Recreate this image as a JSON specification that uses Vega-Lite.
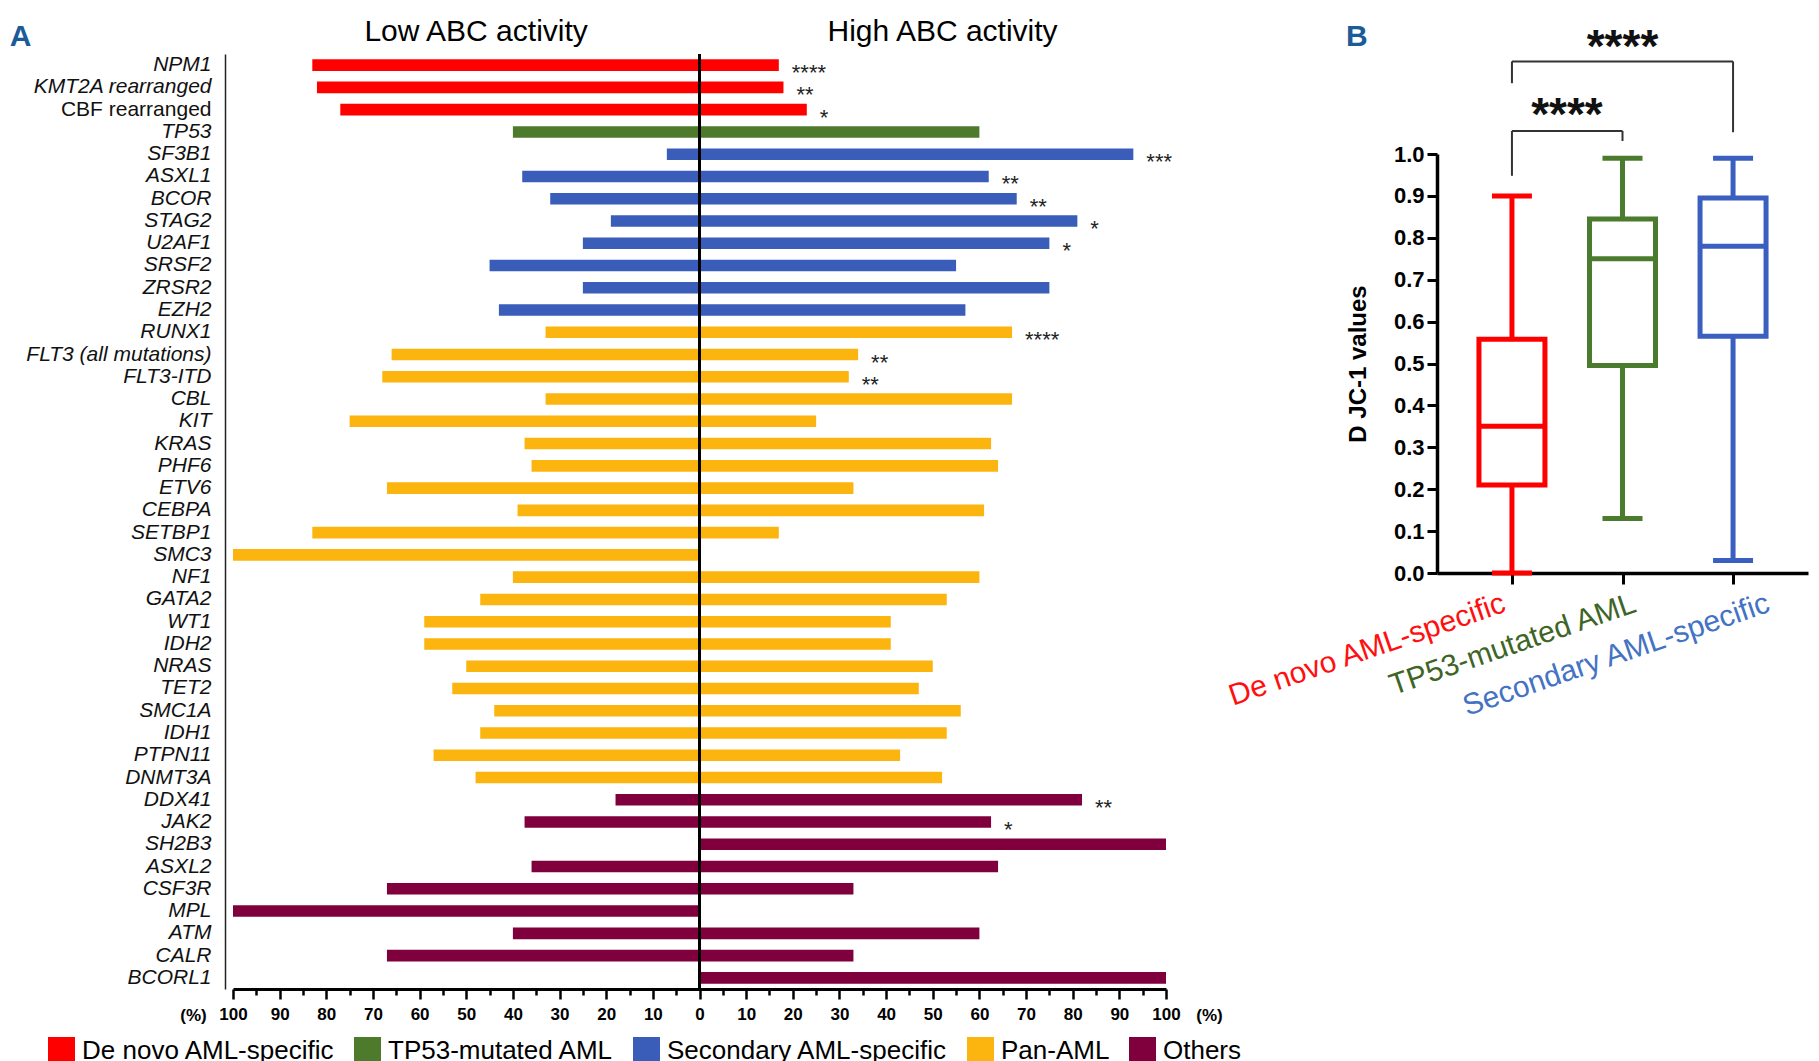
{
  "$schema": "https://vega.github.io/schema/vega-lite/v6.json",
  "background": "white",
  "padding": {"left": 9, "top": 16, "right": 5, "bottom": 0},
  "config": {
    "font": "Liberation Sans",
    "view": {"stroke": null},
    "axis": {"labelFont": "Liberation Sans", "titleFont": "Liberation Sans"},
    "legend": {"labelFont": "Liberation Sans"},
    "title": {"font": "Liberation Sans"}
  },
  "datasets": {
    "genes": [
      {"gene": "NPM1", "group": "De novo AML-specific", "low": -83, "high": 17, "sig": "****"},
      {"gene": "KMT2A rearranged", "group": "De novo AML-specific", "low": -82, "high": 18, "sig": "**"},
      {"gene": "CBF rearranged", "group": "De novo AML-specific", "low": -77, "high": 23, "sig": "*"},
      {"gene": "TP53", "group": "TP53-mutated AML", "low": -40, "high": 60, "sig": ""},
      {"gene": "SF3B1", "group": "Secondary AML-specific", "low": -7, "high": 93, "sig": "***"},
      {"gene": "ASXL1", "group": "Secondary AML-specific", "low": -38, "high": 62, "sig": "**"},
      {"gene": "BCOR", "group": "Secondary AML-specific", "low": -32, "high": 68, "sig": "**"},
      {"gene": "STAG2", "group": "Secondary AML-specific", "low": -19, "high": 81, "sig": "*"},
      {"gene": "U2AF1", "group": "Secondary AML-specific", "low": -25, "high": 75, "sig": "*"},
      {"gene": "SRSF2", "group": "Secondary AML-specific", "low": -45, "high": 55, "sig": ""},
      {"gene": "ZRSR2", "group": "Secondary AML-specific", "low": -25, "high": 75, "sig": ""},
      {"gene": "EZH2", "group": "Secondary AML-specific", "low": -43, "high": 57, "sig": ""},
      {"gene": "RUNX1", "group": "Pan-AML", "low": -33, "high": 67, "sig": "****"},
      {"gene": "FLT3 (all mutations)", "group": "Pan-AML", "low": -66, "high": 34, "sig": "**"},
      {"gene": "FLT3-ITD", "group": "Pan-AML", "low": -68, "high": 32, "sig": "**"},
      {"gene": "CBL", "group": "Pan-AML", "low": -33, "high": 67, "sig": ""},
      {"gene": "KIT", "group": "Pan-AML", "low": -75, "high": 25, "sig": ""},
      {"gene": "KRAS", "group": "Pan-AML", "low": -37.5, "high": 62.5, "sig": ""},
      {"gene": "PHF6", "group": "Pan-AML", "low": -36, "high": 64, "sig": ""},
      {"gene": "ETV6", "group": "Pan-AML", "low": -67, "high": 33, "sig": ""},
      {"gene": "CEBPA", "group": "Pan-AML", "low": -39, "high": 61, "sig": ""},
      {"gene": "SETBP1", "group": "Pan-AML", "low": -83, "high": 17, "sig": ""},
      {"gene": "SMC3", "group": "Pan-AML", "low": -100, "high": 0, "sig": ""},
      {"gene": "NF1", "group": "Pan-AML", "low": -40, "high": 60, "sig": ""},
      {"gene": "GATA2", "group": "Pan-AML", "low": -47, "high": 53, "sig": ""},
      {"gene": "WT1", "group": "Pan-AML", "low": -59, "high": 41, "sig": ""},
      {"gene": "IDH2", "group": "Pan-AML", "low": -59, "high": 41, "sig": ""},
      {"gene": "NRAS", "group": "Pan-AML", "low": -50, "high": 50, "sig": ""},
      {"gene": "TET2", "group": "Pan-AML", "low": -53, "high": 47, "sig": ""},
      {"gene": "SMC1A", "group": "Pan-AML", "low": -44, "high": 56, "sig": ""},
      {"gene": "IDH1", "group": "Pan-AML", "low": -47, "high": 53, "sig": ""},
      {"gene": "PTPN11", "group": "Pan-AML", "low": -57, "high": 43, "sig": ""},
      {"gene": "DNMT3A", "group": "Pan-AML", "low": -48, "high": 52, "sig": ""},
      {"gene": "DDX41", "group": "Others", "low": -18, "high": 82, "sig": "**"},
      {"gene": "JAK2", "group": "Others", "low": -37.5, "high": 62.5, "sig": "*"},
      {"gene": "SH2B3", "group": "Others", "low": 0, "high": 100, "sig": ""},
      {"gene": "ASXL2", "group": "Others", "low": -36, "high": 64, "sig": ""},
      {"gene": "CSF3R", "group": "Others", "low": -67, "high": 33, "sig": ""},
      {"gene": "MPL", "group": "Others", "low": -100, "high": 0, "sig": ""},
      {"gene": "ATM", "group": "Others", "low": -40, "high": 60, "sig": ""},
      {"gene": "CALR", "group": "Others", "low": -67, "high": 33, "sig": ""},
      {"gene": "BCORL1", "group": "Others", "low": 0, "high": 100, "sig": ""}
    ],
    "boxes": [
      {"group": "De novo AML-specific", "min": 0.0, "q1": 0.21, "median": 0.35, "q3": 0.558, "max": 0.9},
      {"group": "TP53-mutated AML", "min": 0.13, "q1": 0.495, "median": 0.75, "q3": 0.845, "max": 0.99},
      {"group": "Secondary AML-specific", "min": 0.03, "q1": 0.565, "median": 0.78, "q3": 0.895, "max": 0.99}
    ],
    "brackets": [
      {"from": "De novo AML-specific", "to": "Secondary AML-specific", "y": 1.221, "y2": 1.221},
      {"from": "De novo AML-specific", "to": "De novo AML-specific", "y": 1.221, "y2": 1.169},
      {"from": "Secondary AML-specific", "to": "Secondary AML-specific", "y": 1.221, "y2": 1.052},
      {"from": "De novo AML-specific", "to": "TP53-mutated AML", "y": 1.055, "y2": 1.055},
      {"from": "De novo AML-specific", "to": "De novo AML-specific", "y": 1.055, "y2": 0.948},
      {"from": "TP53-mutated AML", "to": "TP53-mutated AML", "y": 1.055, "y2": 1.031}
    ],
    "pstars": [
      {"cat": "TP53-mutated AML", "y": 1.252, "label": "****", "pos": "upper"},
      {"cat": "De novo AML-specific", "y": 1.09, "label": "****", "pos": "lower"}
    ]
  },
  "spacing": -19,
  "resolve": {"scale": {"color": "independent"}, "legend": {"color": "independent"}},
  "hconcat": [
    {
      "width": 933,
      "height": 935,
      "title": {"text": "A", "anchor": "start", "frame": "bounds", "orient": "top", "offset": 0, "dx": -16, "dy": 36, "fontSize": 30, "fontWeight": "bold", "color": "#1b5b98"},
      "data": {"name": "genes"},
      "resolve": {"axis": {"x": "independent", "y": "independent"}},
      "layer": [
        {
          "mark": {"type": "bar"},
          "encoding": {
            "y": {
              "field": "gene", "type": "nominal", "sort": null,
              "scale": {"paddingInner": 0.48, "paddingOuter": 0.24},
              "axis": {
                "title": null, "ticks": false, "domain": true, "domainColor": "#222222", "domainWidth": 1.5,
                "offset": 8, "labelPadding": 14, "labelFontSize": 21, "labelColor": "#111111", "labelLimit": 400,
                "labelFontStyle": {"condition": {"test": "datum.value === 'CBF rearranged'", "value": "normal"}, "value": "italic"}
              }
            },
            "x": {
              "field": "high", "type": "quantitative",
              "scale": {"domain": [-100, 100], "nice": false},
              "axis": {
                "orient": "bottom",
                "values": [-100, -90, -80, -70, -60, -50, -40, -30, -20, -10, 0, 10, 20, 30, 40, 50, 60, 70, 80, 90, 100],
                "labelExpr": "abs(datum.value)",
                "labelFontSize": 17, "labelFontWeight": "bold", "labelColor": "black", "labelPadding": 7,
                "labelFlush": false, "labelOverlap": false,
                "tickSize": 10, "tickWidth": 2.5, "tickColor": "black",
                "domainColor": "black", "domainWidth": 3, "grid": false,
                "title": "(%)", "titleFontSize": 17, "titleFontWeight": "bold", "titleColor": "black",
                "titleX": -40, "titleY": 31, "titleAlign": "center", "titleBaseline": "alphabetic"
              }
            },
            "color": {
              "field": "group", "type": "nominal",
              "scale": {
                "domain": ["De novo AML-specific", "TP53-mutated AML", "Secondary AML-specific", "Pan-AML", "Others"],
                "range": ["#ff0000", "#4e7a2c", "#3a5dba", "#fcb40f", "#7f003c"]
              },
              "legend": {
                "orient": "none", "legendX": -185, "legendY": 983, "direction": "horizontal", "columns": 5,
                "title": null, "symbolType": "square", "symbolSize": 729, "symbolStrokeWidth": 0, "symbolOpacity": 1,
                "labelFontSize": 26, "labelColor": "black", "labelOffset": 7, "columnPadding": 19, "labelLimit": 500, "padding": 0
              }
            }
          }
        },
        {
          "mark": {"type": "bar"},
          "encoding": {
            "y": {"field": "gene", "type": "nominal", "sort": null, "axis": null},
            "x": {
              "field": "low", "type": "quantitative",
              "axis": {
                "orient": "top", "values": [-48, 52],
                "labelExpr": "datum.value < 0 ? 'Low ABC activity' : 'High ABC activity'",
                "ticks": false, "domain": false, "grid": false,
                "labelFontSize": 30, "labelColor": "black", "labelPadding": 8, "labelLimit": 500,
                "labelOverlap": false, "labelFlush": false, "title": null
              }
            },
            "color": {
              "field": "group", "type": "nominal",
              "scale": {
                "domain": ["De novo AML-specific", "TP53-mutated AML", "Secondary AML-specific", "Pan-AML", "Others"],
                "range": ["#ff0000", "#4e7a2c", "#3a5dba", "#fcb40f", "#7f003c"]
              },
              "legend": {
                "orient": "none", "legendX": -185, "legendY": 983, "direction": "horizontal", "columns": 5,
                "title": null, "symbolType": "square", "symbolSize": 729, "symbolStrokeWidth": 0, "symbolOpacity": 1,
                "labelFontSize": 26, "labelColor": "black", "labelOffset": 7, "columnPadding": 19, "labelLimit": 500, "padding": 0
              }
            }
          }
        },
        {
          "mark": {"type": "text", "align": "left", "baseline": "middle", "dx": 13, "dy": 8, "fontSize": 22, "color": "#222222"},
          "encoding": {
            "y": {"field": "gene", "type": "nominal", "sort": null, "axis": null},
            "x": {"field": "high", "type": "quantitative", "axis": null},
            "text": {"field": "sig"}
          }
        },
        {
          "mark": {"type": "rule", "strokeWidth": 3, "color": "black"},
          "encoding": {
            "x": {
              "datum": 0, "type": "quantitative",
              "axis": {
                "orient": "bottom",
                "values": [-95, -85, -75, -65, -55, -45, -35, -25, -15, -5, 5, 15, 25, 35, 45, 55, 65, 75, 85, 95],
                "labels": false, "domain": false, "grid": false,
                "tickSize": 6, "tickWidth": 2.5, "tickColor": "black",
                "title": "(%)", "titleFontSize": 17, "titleFontWeight": "bold", "titleColor": "black",
                "titleX": 976, "titleY": 31, "titleAlign": "center", "titleBaseline": "alphabetic"
              }
            }
          }
        }
      ]
    },
    {
      "vconcat": [
        {
          "width": 371,
          "height": 100,
          "title": {"text": "B", "anchor": "start", "frame": "bounds", "orient": "top", "offset": 0, "dx": -91, "dy": 27, "fontSize": 30, "fontWeight": "bold", "color": "#1b5b98"},
          "resolve": {"axis": {"x": "independent", "y": "independent"}},
          "layer": [
            {
              "data": {"name": "brackets"},
              "mark": {"type": "rule", "strokeWidth": 2, "color": "#333333"},
              "encoding": {
                "x": {"field": "from", "type": "nominal", "scale": {"type": "point", "padding": 0.678, "domain": ["De novo AML-specific", "TP53-mutated AML", "Secondary AML-specific"]}, "axis": null},
                "x2": {"field": "to"},
                "y": {"field": "y", "type": "quantitative", "scale": {"domain": [1, 1.2387], "nice": false, "zero": false}, "axis": null},
                "y2": {"field": "y2"}
              }
            },
            {
              "data": {"name": "pstars"},
              "transform": [{"filter": "datum.pos === 'upper'"}],
              "mark": {"type": "text", "fontSize": 46, "fontWeight": "bold", "baseline": "middle", "align": "center", "color": "#111111"},
              "encoding": {
                "x": {"field": "cat", "type": "nominal", "axis": null},
                "y": {"field": "y", "type": "quantitative", "axis": null},
                "text": {"field": "label"}
              }
            },
            {
              "data": {"name": "pstars"},
              "transform": [{"filter": "datum.pos === 'lower'"}],
              "mark": {"type": "text", "fontSize": 46, "fontWeight": "bold", "baseline": "middle", "align": "center", "dx": 55, "color": "#111111"},
              "encoding": {
                "x": {"field": "cat", "type": "nominal", "axis": null},
                "y": {"field": "y", "type": "quantitative", "axis": null},
                "text": {"field": "label"}
              }
            }
          ]
        },
        {
          "width": 371,
          "height": 419,
          "data": {"name": "boxes"},
          "resolve": {"axis": {"x": "independent", "y": "independent"}},
          "layer": [
            {
              "mark": {"type": "rule", "strokeWidth": 5},
              "encoding": {
                "x": {
                  "field": "group", "type": "nominal",
                  "scale": {"type": "point", "padding": 0.678, "domain": ["De novo AML-specific", "TP53-mutated AML", "Secondary AML-specific"]},
                  "axis": {
                    "title": null, "labelAngle": -19, "labelAlign": "right", "labelBaseline": "top",
                    "labelFontSize": 30, "labelPadding": 4, "labelLimit": 600, "labelOverlap": false,
                    "labelOffset": {"condition": [{"test": "datum.value === 'De novo AML-specific'", "value": -13}, {"test": "datum.value === 'TP53-mutated AML'", "value": 7}], "value": 30},
                    "labelColor": {"condition": [{"test": "datum.value === 'De novo AML-specific'", "value": "#ff1010"}, {"test": "datum.value === 'TP53-mutated AML'", "value": "#3e6526"}], "value": "#4472c4"},
                    "tickSize": 11, "tickWidth": 3, "tickColor": "black", "domainColor": "black", "domainWidth": 3.5, "grid": false
                  }
                },
                "y": {
                  "field": "min", "type": "quantitative",
                  "scale": {"domain": [0, 1], "nice": false},
                  "axis": {
                    "title": "D JC-1 values", "titleFontSize": 24, "titleFontWeight": "bold", "titleColor": "black", "titlePadding": 23,
                    "values": [0, 0.1, 0.2, 0.3, 0.4, 0.5, 0.6, 0.7, 0.8, 0.9, 1], "format": ".1f",
                    "labelFontSize": 22, "labelFontWeight": "bold", "labelColor": "black", "labelPadding": 3,
                    "tickSize": 10, "tickWidth": 3, "tickColor": "black", "domainColor": "black", "domainWidth": 3.5, "grid": false
                  }
                },
                "y2": {"field": "q1"},
                "color": {"field": "group", "type": "nominal", "scale": {"domain": ["De novo AML-specific", "TP53-mutated AML", "Secondary AML-specific"], "range": ["#ff0000", "#4b7b2c", "#3b5fc0"]}, "legend": null}
              }
            },
            {
              "mark": {"type": "rule", "strokeWidth": 5},
              "encoding": {
                "x": {"field": "group", "type": "nominal", "axis": null},
                "y": {"field": "q3", "type": "quantitative", "axis": null},
                "y2": {"field": "max"},
                "color": {"field": "group", "type": "nominal", "legend": null}
              }
            },
            {
              "mark": {"type": "bar", "width": 66, "filled": false, "strokeWidth": 5},
              "encoding": {
                "x": {"field": "group", "type": "nominal", "axis": null},
                "y": {"field": "q1", "type": "quantitative", "axis": null},
                "y2": {"field": "q3"},
                "color": {"field": "group", "type": "nominal", "legend": null}
              }
            },
            {
              "mark": {"type": "tick", "size": 66, "thickness": 5, "opacity": 1},
              "encoding": {
                "x": {"field": "group", "type": "nominal", "axis": null},
                "y": {"field": "median", "type": "quantitative", "axis": null},
                "color": {"field": "group", "type": "nominal", "legend": null}
              }
            },
            {
              "mark": {"type": "tick", "size": 40, "thickness": 5, "opacity": 1},
              "encoding": {
                "x": {"field": "group", "type": "nominal", "axis": null},
                "y": {"field": "min", "type": "quantitative", "axis": null},
                "color": {"field": "group", "type": "nominal", "legend": null}
              }
            },
            {
              "mark": {"type": "tick", "size": 40, "thickness": 5, "opacity": 1},
              "encoding": {
                "x": {"field": "group", "type": "nominal", "axis": null},
                "y": {"field": "max", "type": "quantitative", "axis": null},
                "color": {"field": "group", "type": "nominal", "legend": null}
              }
            }
          ]
        }
      ],
      "spacing": 0,
      "bounds": "flush",
      "resolve": {"scale": {"x": "shared"}, "axis": {"x": "independent"}}
    }
  ]
}
